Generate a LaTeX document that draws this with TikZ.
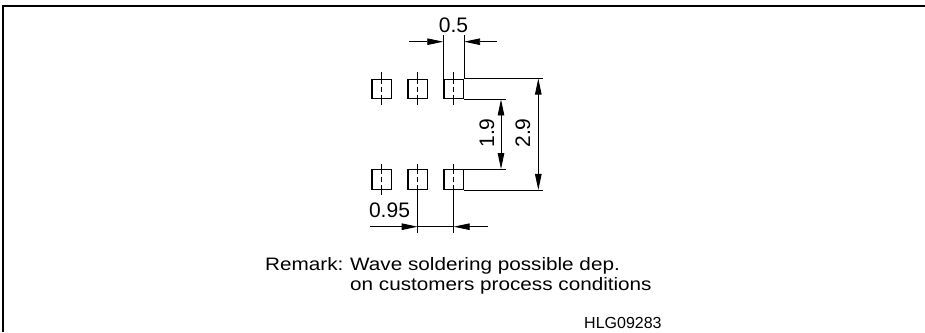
\documentclass[tikz,border=0pt]{standalone}
\usepackage{fontspec}
\setmainfont{Liberation Sans}
\newfontfamily\remarkfont{Liberation Sans}[FakeStretch=1.15]
\usetikzlibrary{positioning,arrows.meta}

\tikzset{
  pad/.style={draw, line width=1.4pt, minimum size=19.5pt, inner sep=0pt},
  dimline/.style={line width=0.9pt},
  dimarrow/.style={dimline, -{Triangle[length=16pt,width=6.5pt]}},
  twoarrow/.style={dimline, {Triangle[length=16pt,width=6.5pt]}-{Triangle[length=16pt,width=6.5pt]}},
  centerline/.style={line width=0.9pt, dash pattern=on 5pt off 3pt},
  dimtext/.style={font=\fontsize{21}{24}\selectfont, inner sep=0pt},
  remtext/.style={anchor=base west, inner sep=0pt, font=\remarkfont\fontsize{18}{21}\selectfont},
}

\begin{document}
\begin{tikzpicture}[x=1pt,y=-1pt]
\useasboundingbox (0,0) rectangle (925,332);
% frame
\draw[line width=2pt] (925,6) -- (3,6) -- (3,332);

% pads
\foreach \i/\x in {1/381.7,2/417.7,3/453.7}{
  \node[pad] (t\i) at (\x,89) {};
  \node[pad] (b\i) at (\x,179.5) {};
  \draw[dimline] (t\i.north) -- ++(0,-6.3);
  \draw[dimline] (t\i.south) -- ++(0,5.3);
  \draw[centerline] (t\i.north) -- (t\i.south);
  \draw[dimline] (b\i.north) -- ++(0,-5);
  \draw[centerline] (b\i.north) -- (b\i.south);
}
\draw[dimline] (b1.south) -- ++(0,5);

% 0.5
\coordinate (wl) at (409,41.7);
\coordinate (wr) at (496.7,41.7);
\draw[dimline] (t3.north west) -- ++(0,-44);
\draw[dimline] (t3.north east) -- ++(0,-44);
\draw[dimarrow] (wl) -- (wl -| t3.north west);
\draw[dimarrow] (wr) -- (wr -| t3.north east);
\node[dimtext] (w) at (453.5,25) {0.5};

% 1.9 and 2.9
\coordinate (ia) at (505.7,0);
\coordinate (oa) at (543,0);
\draw[dimline] (t3.south east) -- (ia |- t3.south east);
\draw[dimline] (b3.north east) -- (ia |- b3.north east);
\draw[dimline] (t3.north east) -- (oa |- t3.north east);
\draw[dimline] (b3.south east) -- (oa |- b3.south east);
\draw[twoarrow] (501,0 |- t3.south) -- (501,0 |- b3.north);
\draw[twoarrow] (538.3,0 |- t3.north) -- (538.3,0 |- b3.south);
\node[dimtext, rotate=90] (inner) at (487,133) {1.9};
\node[dimtext, rotate=90] (outer) at (523,133) {2.9};

% 0.95
\coordinate (pl) at (370,226.7);
\coordinate (pr) at (487.7,226.7);
\draw[dimline] (b2.south) -- ++(0,43);
\draw[dimline] (b3.south) -- ++(0,43);
\draw[dimarrow] (pl) -- (pl -| b2.south);
\draw[dimarrow] (pr) -- (pr -| b3.south);
\draw[dimline] (pl -| b2.south) -- (pr -| b3.south);
\node[dimtext] (p) at (389.5,210) {0.95};

% remark
\node[remtext] (rem) at (265,270.5) {Remark:};
\node[remtext] (rem1) at (350,270.5) {Wave soldering possible dep.};
\node[remtext] (rem2) at (350,290.5) {on customers process conditions};
\node[anchor=base west, inner sep=0pt, font=\fontsize{16}{19}\selectfont] (code) at (584,328) {HLG09283};
\end{tikzpicture}
\end{document}
